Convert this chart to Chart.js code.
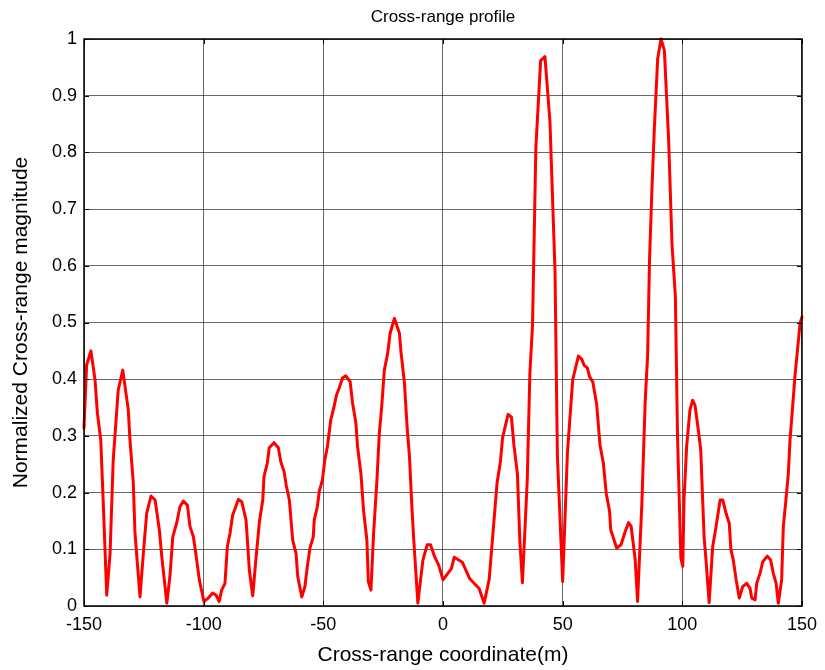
<!DOCTYPE html>
<html>
<head>
<meta charset="utf-8">
<script src="https://cdn.jsdelivr.net/npm/chart.js@4.4.1/dist/chart.umd.min.js"></script>
<style>
  html, body { margin: 0; padding: 0; background: #ffffff; }
  #wrap { width: 825px; height: 670px; }
</style>
</head>
<body>
<div id="wrap"><canvas id="c" width="825" height="670"></canvas></div>
<script>
const chartTitle = "Cross-range profile";
const xAxisTitle = "Cross-range coordinate(m)";
const yAxisTitle = "Normalized Cross-range magnitude";

const xTickValues = [-150, -100, -50, 0, 50, 100, 150];
const xTickLabels = ["-150", "-100", "-50", "0", "50", "100", "150"];
const yTickValues = [0, 0.1, 0.2, 0.3, 0.4, 0.5, 0.6, 0.7, 0.8, 0.9, 1];
const yTickLabels = ["0", "0.1", "0.2", "0.3", "0.4", "0.5", "0.6", "0.7", "0.8", "0.9", "1"];

const crossRange = [
  -150, -148.9, -147.1, -145.4, -144.4, -143.0, -142.0, -140.5, -139.1, -137.8,
  -135.7, -133.8, -131.5, -130.8, -129.4, -128.7, -126.6, -125.2, -123.8, -122.0,
  -120.3, -118.5, -117.5, -115.4, -114.1, -112.9, -111.3, -109.9, -108.5, -106.8,
  -105.7, -104.3, -103.3, -101.8, -99.9, -98.1, -96.2, -94.8, -93.5, -92.5,
  -91.1, -90.1, -89.0, -87.9, -85.5, -84.1, -82.3, -80.9, -79.5, -78.2,
  -76.7, -75.3, -74.8, -73.4, -72.6, -70.6, -68.8, -67.8, -66.4, -65.5,
  -64.2, -62.8, -61.4, -60.7, -59.0, -57.7, -56.7, -55.6, -54.2, -53.8,
  -52.5, -51.7, -50.4, -49.4, -48.3, -46.9, -45.5, -44.5, -43.4, -42.0,
  -40.6, -38.8, -37.8, -36.4, -35.7, -34.3, -33.2, -31.8, -31.2, -30.1,
  -29.0, -27.6, -26.6, -25.6, -24.5, -23.1, -22.1, -20.3, -18.2, -17.5,
  -16.1, -15.0, -14.0, -13.0, -12.2, -10.5, -8.4, -6.6, -5.2, -3.5,
  -1.8, 0.0, 3.5, 4.7, 8.1, 11.2, 15.1, 17.2, 19.3, 21.2,
  22.6, 24.0, 24.9, 27.2, 28.6, 29.6, 31.1, 32.1, 33.2, 35.2,
  36.3, 37.4, 38.8, 40.8, 42.6, 44.7, 46.8, 47.8, 50.0, 52.0,
  54.2, 56.6, 58.0, 58.9, 60.3, 61.2, 62.6, 64.2, 65.6, 67.0,
  68.2, 69.6, 70.1, 72.6, 74.4, 76.1, 77.5, 78.6, 80.3, 81.3,
  83.1, 84.5, 85.5, 86.3, 87.3, 88.3, 89.7, 91.1, 92.5, 94.3,
  95.7, 97.1, 98.0, 99.4, 100.2, 100.7, 101.8, 103.2, 104.3, 105.3,
  106.7, 107.7, 108.5, 109.1, 109.9, 111.2, 112.7, 114.1, 115.8, 116.9,
  118.3, 119.6, 120.3, 121.3, 122.5, 123.8, 125.2, 126.9, 128.3, 129.0,
  130.4, 131.1, 132.5, 133.6, 135.5, 136.9, 138.0, 139.2, 140.1, 141.5,
  142.2, 143.3, 144.3, 145.0, 146.1, 147.1, 148.0, 149.2, 150.0
];
const magnitude = [
  0.314, 0.425, 0.450, 0.399, 0.340, 0.293, 0.187, 0.019, 0.093, 0.257,
  0.381, 0.416, 0.346, 0.293, 0.217, 0.129, 0.016, 0.093, 0.164, 0.194,
  0.187, 0.134, 0.087, 0.005, 0.052, 0.122, 0.146, 0.175, 0.185, 0.178,
  0.140, 0.122, 0.093, 0.046, 0.008, 0.014, 0.023, 0.019, 0.008, 0.028,
  0.040, 0.105, 0.128, 0.160, 0.188, 0.184, 0.152, 0.063, 0.018, 0.081,
  0.149, 0.187, 0.228, 0.252, 0.279, 0.288, 0.279, 0.255, 0.237, 0.213,
  0.187, 0.116, 0.093, 0.052, 0.016, 0.034, 0.069, 0.102, 0.122, 0.152,
  0.175, 0.202, 0.222, 0.257, 0.281, 0.328, 0.352, 0.372, 0.384, 0.402,
  0.406, 0.396, 0.358, 0.323, 0.281, 0.234, 0.169, 0.116, 0.043, 0.028,
  0.128, 0.222, 0.305, 0.352, 0.416, 0.446, 0.481, 0.507, 0.481, 0.446,
  0.393, 0.316, 0.263, 0.175, 0.116, 0.005, 0.081, 0.108, 0.108, 0.087,
  0.072, 0.046, 0.066, 0.086, 0.077, 0.048, 0.031, 0.005, 0.047, 0.145,
  0.217, 0.255, 0.297, 0.338, 0.333, 0.285, 0.233, 0.116, 0.041, 0.221,
  0.410, 0.494, 0.808, 0.962, 0.969, 0.854, 0.592, 0.265, 0.043, 0.271,
  0.399, 0.441, 0.435, 0.425, 0.420, 0.405, 0.395, 0.356, 0.284, 0.252,
  0.199, 0.167, 0.134, 0.102, 0.108, 0.131, 0.147, 0.141, 0.082, 0.008,
  0.181, 0.363, 0.441, 0.611, 0.735, 0.841, 0.965, 1.000, 0.980, 0.820,
  0.637, 0.546, 0.297, 0.085, 0.070, 0.187, 0.281, 0.346, 0.363, 0.354,
  0.310, 0.275, 0.187, 0.122, 0.081, 0.006, 0.105, 0.140, 0.187, 0.187,
  0.163, 0.146, 0.100, 0.081, 0.046, 0.014, 0.034, 0.040, 0.031, 0.014,
  0.011, 0.040, 0.058, 0.078, 0.088, 0.081, 0.058, 0.040, 0.005, 0.046,
  0.140, 0.187, 0.234, 0.293, 0.352, 0.407, 0.446, 0.499, 0.510
];

const FONT = '"Liberation Sans", Arial, sans-serif';

const points = crossRange.map((x, i) => ({ x: x, y: magnitude[i] }));

const frame = {
  id: 'frame',
  afterDraw(chart) {
    const { ctx, chartArea: a, scales } = chart;
    ctx.save();
    ctx.strokeStyle = '#000';
    ctx.lineWidth = 1;
    const tl = 5;
    ctx.beginPath();
    xTickValues.forEach(v => {
      const px = Math.round(scales.x.getPixelForValue(v)) + 0.5;
      ctx.moveTo(px, a.bottom); ctx.lineTo(px, a.bottom - tl);
      ctx.moveTo(px, a.top); ctx.lineTo(px, a.top + tl);
    });
    yTickValues.forEach(v => {
      const py = Math.round(scales.y.getPixelForValue(v)) + 0.5;
      ctx.moveTo(a.left, py); ctx.lineTo(a.left + tl, py);
      ctx.moveTo(a.right, py); ctx.lineTo(a.right - tl, py);
    });
    ctx.stroke();
    ctx.lineWidth = 1.5;
    ctx.strokeRect(a.left, a.top, a.right - a.left, a.bottom - a.top);
    ctx.fillStyle = '#000';
    ctx.font = '17px ' + FONT;
    ctx.textAlign = 'center';
    ctx.textBaseline = 'middle';
    ctx.fillText(chartTitle, (a.left + a.right) / 2, 17);
    ctx.restore();
  }
};

new Chart(document.getElementById('c'), {
  type: 'line',
  data: {
    datasets: [{
      data: points,
      borderColor: '#ff0000',
      borderWidth: 3,
      borderJoinStyle: 'round',
      borderCapStyle: 'round',
      pointRadius: 0,
      tension: 0,
      fill: false,
      clip: false
    }]
  },
  options: {
    responsive: false,
    animation: false,
    layout: { padding: { top: 39, right: 23, left: 0, bottom: 0 } },
    plugins: { legend: { display: false }, tooltip: { enabled: false }, title: { display: false } },
    scales: {
      x: {
        type: 'linear',
        min: -150, max: 150,
        afterBuildTicks(s) { s.ticks = xTickValues.map(v => ({ value: v })); },
        afterFit(s) { s.height = 64; },
        ticks: {
          autoSkip: false, maxRotation: 0,
          color: '#000', padding: 8,
          font: { family: FONT, size: 18 },
          callback: (v) => { const i = xTickValues.indexOf(v); return i >= 0 ? xTickLabels[i] : ''; }
        },
        grid: { color: 'rgba(40,40,40,0.7)', lineWidth: 1, drawTicks: false },
        border: { display: false },
        title: { display: true, text: xAxisTitle, color: '#000', font: { family: FONT, size: 21 }, padding: { top: 0, bottom: 2 } }
      },
      y: {
        type: 'linear',
        min: 0, max: 1,
        afterBuildTicks(s) { s.ticks = yTickValues.map(v => ({ value: v })); },
        afterFit(s) { s.width = 84; },
        ticks: {
          autoSkip: false,
          color: '#000', padding: 7,
          font: { family: FONT, size: 18 },
          callback: (v) => { const i = yTickValues.findIndex(t => Math.abs(t - v) < 1e-9); return i >= 0 ? yTickLabels[i] : ''; }
        },
        grid: { color: 'rgba(40,40,40,0.7)', lineWidth: 1, drawTicks: false },
        border: { display: false },
        title: { display: true, text: yAxisTitle, color: '#000', font: { family: FONT, size: 21 }, padding: { top: 9, bottom: 0 } }
      }
    }
  },
  plugins: [frame]
});
</script>
</body>
</html>
